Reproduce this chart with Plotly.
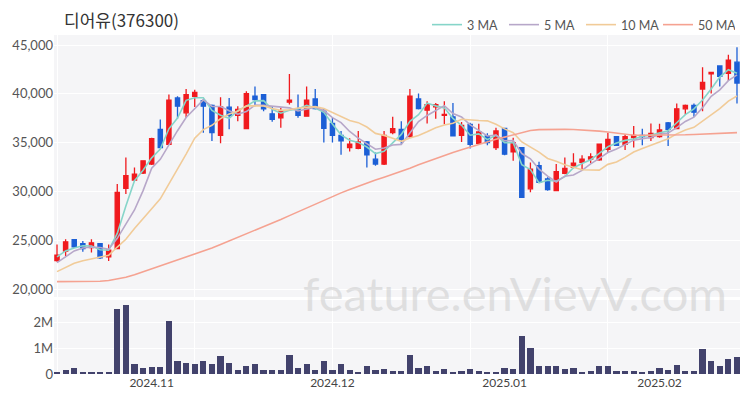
import plotly.graph_objects as go
import pandas as pd

dates = [
    "2024-10-17", "2024-10-18", "2024-10-21", "2024-10-22", "2024-10-23", "2024-10-24", "2024-10-25",
    "2024-10-28", "2024-10-29", "2024-10-30", "2024-10-31",
    "2024-11-01", "2024-11-04", "2024-11-05", "2024-11-06", "2024-11-07", "2024-11-08", "2024-11-11",
    "2024-11-12", "2024-11-13", "2024-11-14", "2024-11-15", "2024-11-18", "2024-11-19", "2024-11-20",
    "2024-11-21", "2024-11-22", "2024-11-25", "2024-11-26", "2024-11-27", "2024-11-28", "2024-11-29",
    "2024-12-02", "2024-12-03", "2024-12-04", "2024-12-05", "2024-12-06", "2024-12-09", "2024-12-10",
    "2024-12-11", "2024-12-12", "2024-12-13", "2024-12-16", "2024-12-17", "2024-12-18", "2024-12-19",
    "2024-12-20", "2024-12-23", "2024-12-24", "2024-12-26", "2024-12-27", "2024-12-30",
    "2025-01-02", "2025-01-03", "2025-01-06", "2025-01-07", "2025-01-08", "2025-01-09", "2025-01-10",
    "2025-01-13", "2025-01-14", "2025-01-15", "2025-01-16", "2025-01-17", "2025-01-20", "2025-01-21",
    "2025-01-22", "2025-01-23", "2025-01-24", "2025-01-31",
    "2025-02-03", "2025-02-04", "2025-02-05", "2025-02-06", "2025-02-07", "2025-02-10", "2025-02-11",
    "2025-02-12", "2025-02-13", "2025-02-14",
]

open_ = [22900, 23880, 25070, 24660, 24250, 24660, 23300, 24150, 30320, 31170,
         31880, 32800, 36360, 34830, 39580, 38050, 39750, 39310, 38800, 35750,
         38630, 37780, 36430, 39750, 39920, 37950, 37540, 39140, 38460, 37710,
         39480, 38220, 36970, 35750, 34490, 34420, 35070, 33300, 32800, 36020,
         36360, 35610, 39480, 38320, 38660, 37780, 37640, 35750, 36870, 34930,
         35680, 34490, 36460, 34050, 34490, 30260, 32630, 31270, 30080, 31850,
         32460, 32970, 33300, 33230, 34320, 35610, 34830, 35510, 35750, 35510,
         35610, 37030, 36430, 38460, 38800, 40490, 42050, 42860, 42100, 43240]
high = [24560, 25100, 25100, 24930, 25100, 24700, 24560, 30760, 33470, 32460,
        33200, 35510, 37370, 39920, 39750, 40490, 40420, 39480, 38900, 39640,
        39580, 38730, 40250, 40760, 39920, 38730, 38560, 42020, 39920, 40760,
        40490, 38460, 37540, 36190, 35440, 36190, 35170, 33980, 36190, 37640,
        37200, 40490, 40020, 39240, 39070, 39240, 39070, 37100, 37030, 36930,
        35950, 36530, 36530, 35510, 34490, 32970, 33030, 31440, 32800, 33470,
        33910, 33710, 33910, 34900, 36020, 35680, 35850, 36700, 36430, 36970,
        36930, 37100, 39000, 38900, 39000, 42730, 42190, 42860, 44000, 44760]
low = [22800, 23370, 24200, 23810, 23740, 23070, 22860, 24150, 29740, 31100,
       31780, 32700, 34490, 34830, 37440, 37540, 38660, 36020, 35170, 34930,
       36360, 37200, 36360, 38730, 38220, 37130, 36530, 38900, 37540, 37710,
       38390, 35000, 35000, 33750, 34080, 34320, 32460, 32630, 32700, 35850,
       34830, 35510, 38390, 36970, 37440, 36870, 35680, 35070, 34390, 34830,
       34730, 34250, 33710, 33130, 29400, 29910, 30870, 30080, 30080, 31750,
       32360, 32290, 32900, 33130, 34050, 34660, 34250, 34490, 34730, 35170,
       35510, 34660, 36360, 37880, 37640, 38220, 40030, 40760, 41300, 39000]
close = [23470, 24830, 24320, 24150, 24730, 23200, 23980, 29910, 31610, 31780,
         33130, 35410, 34490, 39340, 38730, 39920, 40150, 38730, 36020, 38660,
         37780, 38390, 40020, 39410, 38460, 37370, 38220, 39340, 37780, 39340,
         38490, 36460, 35750, 35170, 34830, 35070, 33750, 32800, 35750, 36430,
         35340, 39750, 38490, 38900, 38900, 37880, 35680, 36770, 34830, 36090,
         35000, 36190, 33810, 35000, 29400, 32290, 30940, 30190, 32020, 32360,
         32900, 33300, 33540, 34830, 35340, 34730, 35610, 35750, 35610, 35950,
         36290, 36360, 38460, 38800, 38120, 41170, 42190, 41780, 43450, 41100]
volume = [0.05, 0.14, 0.24, 0.04, 0.04, 0.04, 0.04, 2.49, 2.66, 0.38,
          0.24, 0.27, 0.27, 2.06, 0.52, 0.43, 0.37, 0.49, 0.38, 0.68,
          0.44, 0.14, 0.32, 0.37, 0.14, 0.14, 0.14, 0.73, 0.23, 0.37,
          0.14, 0.49, 0.14, 0.37, 0.14, 0.06, 0.32, 0.14, 0.19, 0.11,
          0.11, 0.75, 0.22, 0.29, 0.11, 0.19, 0.09, 0.11, 0.19, 0.11,
          0.06, 0.06, 0.24, 0.19, 1.48, 1.01, 0.29, 0.29, 0.29, 0.19,
          0.22, 0.09, 0.11, 0.29, 0.29, 0.11, 0.11, 0.11, 0.06, 0.11,
          0.24, 0.17, 0.34, 0.11, 0.11, 0.97, 0.52, 0.32, 0.59, 0.65]  # millions

# moving-average values before a full window is available
ma3_head = [23300, 23900]
ma5_head = [22700, 23300, 23900, 24200]
ma10_head = [21780, 22200, 22630, 22900, 23100, 23300, 23450, 24300, 25100]
ma50 = [20760, 20760, 20760, 20760, 20770, 20800, 20870, 21000, 21200, 21450,
        21750, 22050, 22380, 22700, 22980, 23250, 23560, 23880, 24200, 24560,
        24920, 25280, 25630, 25990, 26350, 26740, 27130, 27520, 27920, 28320,
        28720, 29110, 29500, 29850, 30200, 30540, 30860, 31170, 31460, 31750,
        32050, 32380, 32730, 33060, 33380, 33680, 33980, 34260, 34540, 34810,
        35080, 35340, 35560, 35800, 36050, 36240, 36330, 36360, 36360, 36360,
        36340, 36300, 36250, 36180, 36080, 35950, 35830, 35760, 35750, 35750,
        35750, 35760, 35780, 35800, 35830, 35870, 35910, 35950, 35990, 36020]

month_labels = ["2024.11", "2024.12", "2025.01", "2025.02"]
price_ticks = [20000, 25000, 30000, 35000, 40000, 45000]
vol_ticks = [0, 1_000_000, 2_000_000]
vol_ticktext = ["0", "1M", "2M"]

title_text = "디어유(376300)"
watermark = "feature.enVievV.com"

# ---------------------------------------------------------------
x = list(range(len(dates)))
cs = pd.Series(close, dtype=float)


def moving_avg(n, head):
    s = cs.rolling(n).mean().tolist()
    for i, v in enumerate(head):
        s[i] = v
    return s


ma3 = moving_avg(3, ma3_head)
ma5 = moving_avg(5, ma5_head)
ma10 = moving_avg(10, ma10_head)

month_pos = []
for i in range(1, len(dates)):
    if dates[i][:7] != dates[i - 1][:7]:
        month_pos.append(i)

RED = "#f01a1e"
BLUE = "#1c5fd6"
FONT = "Noto Sans CJK KR"
NUMFONT = "Lato"

fig = go.Figure()

fig.add_trace(go.Candlestick(
    x=x, open=open_, high=high, low=low, close=close,
    increasing=dict(line=dict(color=RED, width=1.3), fillcolor=RED),
    decreasing=dict(line=dict(color=BLUE, width=1.3), fillcolor=BLUE),
    whiskerwidth=0, showlegend=False, xaxis="x", yaxis="y", hoverinfo="skip",
))

ma_styles = [
    ("3 MA", ma3, "#86d5c9"),
    ("5 MA", ma5, "#b7a7c9"),
    ("10 MA", ma10, "#f1cb98"),
    ("50 MA", ma50, "#f5a291"),
]
for name, vals, col in ma_styles:
    fig.add_trace(go.Scatter(
        x=x, y=vals, mode="lines", name=name,
        line=dict(color=col, width=1.6), xaxis="x", yaxis="y", hoverinfo="skip",
    ))

fig.add_trace(go.Bar(
    x=x, y=[v * 1_000_000 for v in volume], marker=dict(color="#42426c", line=dict(width=0)),
    width=0.72, showlegend=False, xaxis="x2", yaxis="y2", hoverinfo="skip",
))

GRID = "#ffffff"
BG = "#f5f5f7"
xr = [-0.35, len(x) - 0.65]
minor_grid = dict(tickvals=[0, 16, 32, 48, 64], showgrid=True, gridcolor=GRID, gridwidth=1, ticks="")

# page body has an 8px default margin, so the figure is sized to fill the rest
PW, PH = 686, 339  # plot area size in px
fig.update_layout(
    width=742, height=392,
    margin=dict(l=46, r=10, t=27, b=26, autoexpand=False),
    paper_bgcolor="white", plot_bgcolor=BG,
    font=dict(family=NUMFONT, size=12, color="#555"),
    showlegend=True,
    legend=dict(orientation="h", x=(427 - 54) / PW, xanchor="left", xref="paper",
                y=1 + (35 - 25) / PH, yanchor="middle", yref="paper",
                font=dict(size=12.5, color="#555", family=NUMFONT), itemwidth=30,
                entrywidth=32, entrywidthmode="pixels",
                bgcolor="rgba(0,0,0,0)", tracegroupgap=0),
    bargap=0,
    xaxis=dict(domain=[0, 1], range=xr, anchor="y", showticklabels=False, showgrid=False,
               zeroline=False, rangeslider=dict(visible=False), minor=minor_grid,
               automargin=False),
    yaxis=dict(domain=[0.2271, 1], range=[19180, 46025], tickvals=price_ticks, tickformat=",d",
               showgrid=True, gridcolor=GRID, zeroline=False, ticks="", automargin=False,
               tickfont=dict(size=13, color="#555")),
    xaxis2=dict(domain=[0, 1], range=xr, anchor="y2", matches="x", tickvals=month_pos,
                ticktext=month_labels, showgrid=False, zeroline=False, ticks="", automargin=False,
                tickfont=dict(size=12, color="#444"), minor=minor_grid),
    yaxis2=dict(domain=[0, 0.2183], range=[0, 2_850_000], tickvals=vol_ticks, ticktext=vol_ticktext,
                showgrid=True, gridcolor=GRID, zeroline=False, ticks="", automargin=False,
                tickfont=dict(size=13, color="#555")),
    annotations=[
        dict(text=title_text, xref="paper", yref="paper", x=(62 - 54) / PW, y=1 + (35 - 20) / PH,
             xanchor="left", yanchor="middle", showarrow=False,
             font=dict(size=17, color="#333", family=FONT)),
        dict(text=watermark, xref="paper", yref="paper", x=(515 - 54) / PW, y=(374 - 293) / PH,
             xanchor="center", yanchor="middle", showarrow=False,
             font=dict(size=47, color="rgba(200,200,200,0.5)", family=NUMFONT)),
    ],
)

fig.write_html("out.html")
